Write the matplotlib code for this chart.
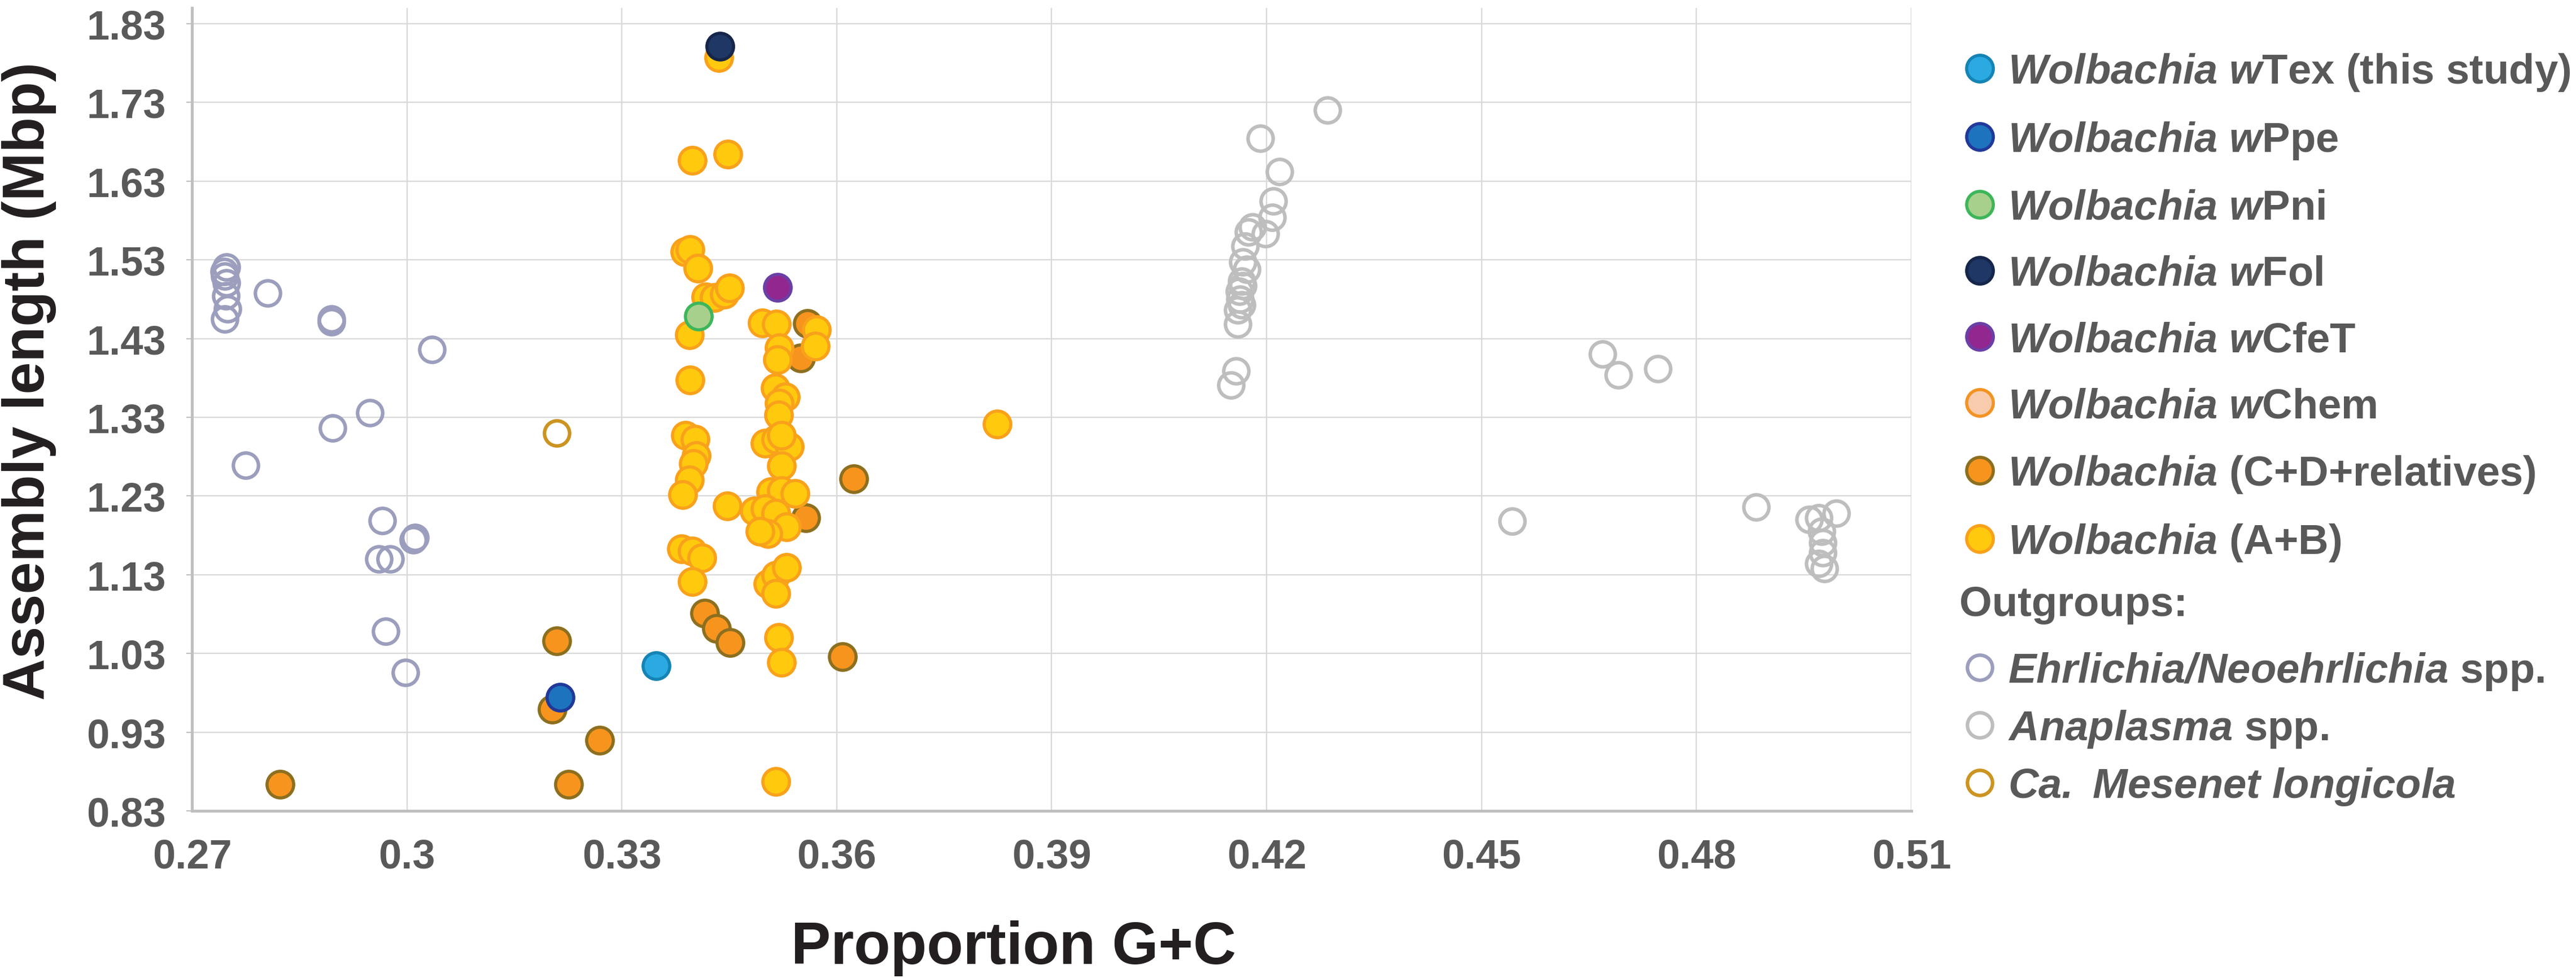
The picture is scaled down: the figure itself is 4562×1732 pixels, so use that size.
import matplotlib
matplotlib.use("Agg")
import matplotlib.pyplot as plt
from matplotlib.lines import Line2D

plt.rcParams['font.family'] = ['Liberation Sans', 'DejaVu Sans']
plt.rcParams['font.weight'] = 'bold'
plt.rcParams['mathtext.fontset'] = 'custom'
plt.rcParams['mathtext.it'] = 'Liberation Sans:italic:bold'
plt.rcParams['mathtext.rm'] = 'Liberation Sans:italic:bold'
plt.rcParams['mathtext.bf'] = 'Liberation Sans:bold'

# ---------------- data ----------------
ehr_x = [0.2748, 0.2745, 0.2746, 0.2748, 0.2747, 0.2750, 0.2746, 0.2806, 0.2895, 0.2895,
         0.3035, 0.2948, 0.2896, 0.2775, 0.2966, 0.3009, 0.3011, 0.2961, 0.2977, 0.2970, 0.2998]
ehr_y = [1.521, 1.515, 1.509, 1.501, 1.484, 1.468, 1.455, 1.488, 1.455, 1.451,
         1.416, 1.336, 1.316, 1.269, 1.199, 1.174, 1.177, 1.150, 1.150, 1.058, 1.006]

ana_x = [0.4285, 0.4191, 0.4218, 0.4209, 0.4208, 0.4198, 0.4180, 0.4175, 0.4170, 0.4167,
         0.4172, 0.4165, 0.4167, 0.4163, 0.4165, 0.4160, 0.4162, 0.4160, 0.4157, 0.4150,
         0.4669, 0.4691, 0.4746, 0.4543, 0.4883, 0.4957, 0.4971, 0.4995, 0.4975, 0.4976,
         0.4976, 0.4979, 0.4971]
ana_y = [1.720, 1.684, 1.642, 1.605, 1.584, 1.563, 1.572, 1.565, 1.547, 1.527,
         1.518, 1.503, 1.497, 1.480, 1.473, 1.466, 1.490, 1.448, 1.389, 1.371,
         1.410, 1.384, 1.392, 1.198, 1.216, 1.200, 1.202, 1.208, 1.185, 1.171,
         1.158, 1.138, 1.144]

mes_x = [0.3209]
mes_y = [1.310]

cd_x = [0.2823, 0.3203, 0.3226, 0.3269, 0.3209, 0.3416, 0.3432, 0.3451, 0.3608, 0.3624,
        0.3557, 0.3559, 0.3550]
cd_y = [0.864, 0.959, 0.864, 0.920, 1.046, 1.081, 1.062, 1.044, 1.026, 1.252,
        1.202, 1.449, 1.405]

ab_x = [0.3435, 0.3398, 0.3448, 0.3388, 0.3395, 0.3406, 0.3417, 0.3429, 0.3443, 0.3450,
        0.3394, 0.3395, 0.3496, 0.3516, 0.3572, 0.3570, 0.3520, 0.3517, 0.3514, 0.3528,
        0.3520, 0.3519, 0.3500, 0.3515, 0.3534, 0.3523, 0.3523, 0.3389, 0.3402, 0.3404,
        0.3400, 0.3394, 0.3385, 0.3447, 0.3485, 0.3508, 0.3523, 0.3542, 0.3500, 0.3515,
        0.3530, 0.3504, 0.3493, 0.3383, 0.3398, 0.3412, 0.3398, 0.3504, 0.3515, 0.3530,
        0.3515, 0.3519, 0.3523, 0.3824, 0.3515]
ab_y = [1.787, 1.656, 1.664, 1.540, 1.543, 1.519, 1.483, 1.482, 1.486, 1.494,
        1.435, 1.377, 1.450, 1.448, 1.441, 1.420, 1.418, 1.403, 1.367, 1.356,
        1.348, 1.333, 1.297, 1.302, 1.293, 1.307, 1.268, 1.307, 1.302, 1.281,
        1.271, 1.250, 1.232, 1.217, 1.211, 1.235, 1.237, 1.233, 1.214, 1.208,
        1.191, 1.182, 1.185, 1.163, 1.160, 1.151, 1.121, 1.118, 1.129, 1.139,
        1.106, 1.050, 1.019, 1.321, 0.867]

chem_x = []
chem_y = []
cfet_x = [0.3517]
cfet_y = [1.495]
fol_x = [0.3437]
fol_y = [1.801]
pni_x = [0.3407]
pni_y = [1.458]
ppe_x = [0.3214]
ppe_y = [0.974]
tex_x = [0.3348]
tex_y = [1.014]

x_ticks = [0.27, 0.30, 0.33, 0.36, 0.39, 0.42, 0.45, 0.48, 0.51]
x_tick_labels = ['0.27', '0.3', '0.33', '0.36', '0.39', '0.42', '0.45', '0.48', '0.51']
y_ticks = [0.83, 0.93, 1.03, 1.13, 1.23, 1.33, 1.43, 1.53, 1.63, 1.73, 1.83]
y_tick_labels = ['0.83', '0.93', '1.03', '1.13', '1.23', '1.33', '1.43', '1.53', '1.63', '1.73', '1.83']

# ---------------- styles ----------------
FILLED_MS, FILLED_MEW = 34, 4.0
OPEN_MS, OPEN_MEW = 32, 4.5
series = {
    'tex':  dict(x=tex_x,  y=tex_y,  fc='#2BAAE2', ec='#1584B5', open=False,
                 label=r'$\mathit{Wolbachia}$ $\mathit{w}$Tex (this study)'),
    'ppe':  dict(x=ppe_x,  y=ppe_y,  fc='#1E73BE', ec='#20399A', open=False,
                 label=r'$\mathit{Wolbachia}$ $\mathit{w}$Ppe'),
    'pni':  dict(x=pni_x,  y=pni_y,  fc='#A8D08D', ec='#3DB65A', open=False,
                 label=r'$\mathit{Wolbachia}$ $\mathit{w}$Pni'),
    'fol':  dict(x=fol_x,  y=fol_y,  fc='#1E3765', ec='#16264A', open=False,
                 label=r'$\mathit{Wolbachia}$ $\mathit{w}$Fol'),
    'cfet': dict(x=cfet_x, y=cfet_y, fc='#92278F', ec='#6A3FA6', open=False,
                 label=r'$\mathit{Wolbachia}$ $\mathit{w}$CfeT'),
    'chem': dict(x=chem_x, y=chem_y, fc='#F8CBAD', ec='#F39323', open=False,
                 label=r'$\mathit{Wolbachia}$ $\mathit{w}$Chem'),
    'cd':   dict(x=cd_x,   y=cd_y,   fc='#F7941E', ec='#8C6F1F', open=False,
                 label=r'$\mathit{Wolbachia}$ (C+D+relatives)'),
    'ab':   dict(x=ab_x,   y=ab_y,   fc='#FFC90E', ec='#F9A11B', open=False,
                 label=r'$\mathit{Wolbachia}$ (A+B)'),
    'ehr':  dict(x=ehr_x,  y=ehr_y,  fc='none', ec='#9C9EBD', open=True,
                 label=r'$\mathit{Ehrlichia/Neoehrlichia}$ spp.'),
    'ana':  dict(x=ana_x,  y=ana_y,  fc='none', ec='#BEBEBE', open=True,
                 label=r'$\mathit{Anaplasma}$ spp.'),
    'mes':  dict(x=mes_x,  y=mes_y,  fc='none', ec='#CC9421', open=True,
                 label=r'$\mathit{Ca.}$ $\mathit{Mesenet}$ $\mathit{longicola}$'),
}
draw_order = ['ehr', 'ana', 'mes', 'cd', 'ab', 'chem', 'cfet', 'fol', 'pni', 'ppe', 'tex']
legend1_keys = ['tex', 'ppe', 'pni', 'fol', 'cfet', 'chem', 'cd', 'ab']
legend2_keys = ['ehr', 'ana', 'mes']

W, H = 4562, 1733
fig = plt.figure(figsize=(W / 100, H / 100), dpi=100)
ax = fig.add_axes([340 / W, 1 - 1437 / H, 3045 / W, 1422 / H])

def mk(s):
    if s['open']:
        return dict(marker='o', linestyle='none', ms=OPEN_MS, mew=OPEN_MEW,
                    mfc='none', mec=s['ec'])
    return dict(marker='o', linestyle='none', ms=FILLED_MS, mew=FILLED_MEW,
                mfc=s['fc'], mec=s['ec'])

for i, k in enumerate(draw_order):
    s = series[k]
    if len(s['x']):
        ax.plot(s['x'], s['y'], zorder=3 + i, **mk(s))

ax.set_xlim(0.27, 0.51)
ax.set_ylim(0.83, 1.85)
ax.set_xticks(x_ticks)
ax.set_xticklabels(x_tick_labels)
ax.set_yticks(y_ticks)
ax.set_yticklabels(y_tick_labels)

ax.grid(True, color='#D9D9D9', lw=1.7)
ax.set_axisbelow(True)
for sp in ['top', 'right']:
    ax.spines[sp].set_visible(False)
for sp in ['left', 'bottom']:
    ax.spines[sp].set_color('#BFBFBF')
    ax.spines[sp].set_linewidth(3.6)

ax.tick_params(axis='y', direction='out', length=7, width=1.5, color='#BFBFBF',
               pad=26, labelsize=52, labelcolor='#595959')
ax.tick_params(axis='x', length=0, pad=34, labelsize=52, labelcolor='#595959')
for t in ax.get_xticklabels() + ax.get_yticklabels():
    t.set_fontweight('bold')

ax.set_xlabel('Proportion G+C', fontsize=76, fontweight='bold', color='#231F20')
ax.xaxis.set_label_coords(0.478, -0.136)
ax.set_ylabel('Assembly length (Mbp)', fontsize=74, fontweight='bold', color='#231F20')
ax.yaxis.set_label_coords(-0.0788, 0.536)

def handle(k):
    s = series[k]
    return Line2D([], [], **mk(s))

LEG_FS = 53.5
leg_kw = dict(frameon=False, prop={'family': 'Liberation Sans', 'weight': 'bold', 'size': LEG_FS},
              handlelength=0.78, handletextpad=0.28, borderpad=0, borderaxespad=0,
              labelcolor='#595959', loc='upper left', numpoints=1)
leg1 = fig.legend([handle(k) for k in legend1_keys], [series[k]['label'] for k in legend1_keys],
                  bbox_to_anchor=(3477 / W, 1 - 92 / H), labelspacing=0.65, **leg_kw)
leg2 = fig.legend([handle(k) for k in legend2_keys], [series[k]['label'] for k in legend2_keys],
                  bbox_to_anchor=(3477 / W, 1 - 1153 / H), labelspacing=0.39, **leg_kw)
fig.text(3470 / W, 1 - 1072 / H, 'Outgroups:', fontsize=LEG_FS, fontweight='bold',
         color='#595959', ha='left', va='center')

fig.savefig('out.png', dpi=100, facecolor='white')
